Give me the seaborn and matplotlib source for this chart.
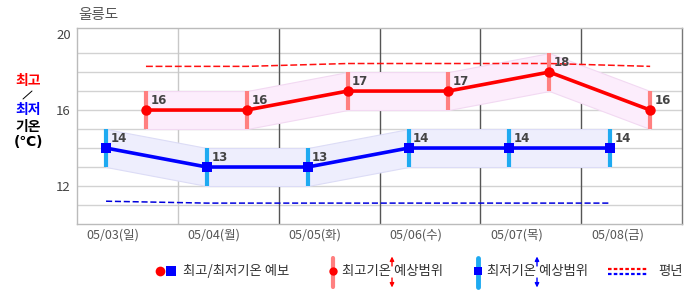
import numpy as np
import pandas as pd
import matplotlib
matplotlib.use("Agg")
import matplotlib.pyplot as plt
import seaborn as sns
from matplotlib.lines import Line2D

# ---------------- data ----------------
location = "울릉도"
dates = ["05/03(일)", "05/04(월)", "05/05(화)", "05/06(수)", "05/07(목)", "05/08(금)"]
max_temp = [16, 16, 17, 17, 18, 16]
max_low = [15, 15, 16, 16, 17, 15]
max_high = [17, 17, 18, 18, 19, 17]
min_temp = [14, 13, 13, 14, 14, 14]
min_low = [13, 12, 12, 13, 13, 13]
min_high = [15, 14, 14, 15, 15, 15]
normal_max = [18.3, 18.3, 18.45, 18.45, 18.45, 18.3]
normal_min = [11.2, 11.1, 11.1, 11.1, 11.1, 11.1]
y_ticks = [12, 16, 20]
grid_levels = [11, 12, 13, 14, 15, 16, 17, 18, 19]

# ---------------- style ----------------
sns.set_style("white")
plt.rcParams['font.family'] = ['Noto Sans CJK KR', 'DejaVu Sans']
plt.rcParams['axes.unicode_minus'] = False

W, H = 686, 295
fig = plt.figure(figsize=(W / 100, H / 100), dpi=100)
ax = fig.add_axes([77 / W, 1 - 224 / H, 605 / W, 196 / H])

day = np.arange(len(dates))
df = pd.DataFrame({
    "day": day,
    "x_min": day + 0.288,   # morning (min) position inside the day column
    "x_max": day + 0.684,   # afternoon (max) position inside the day column
    "max": max_temp, "max_low": max_low, "max_high": max_high,
    "min": min_temp, "min_low": min_low, "min_high": min_high,
    "n_max": normal_max, "n_min": normal_min,
})

# grid
for v in grid_levels:
    ax.axhline(v, color="#d2d2d2", lw=1, zorder=0)
for i in range(1, len(dates)):
    ax.axvline(i, color="#c8c8c8" if i == 1 else "#555555", lw=1, zorder=0.5)

# bands
ax.fill_between(df["x_max"], df["max_low"], df["max_high"], facecolor="#fcedfc",
                edgecolor="#f2d9f2", lw=0.8, zorder=1)
ax.fill_between(df["x_min"], df["min_low"], df["min_high"], facecolor="#eeeefd",
                edgecolor="#dcdcf6", lw=0.8, zorder=1)

# normals
sns.lineplot(data=df, x="x_max", y="n_max", ax=ax, color="#ff1010", lw=1.1, zorder=2)
ax.lines[-1].set_dashes((4.5, 1.8))
sns.lineplot(data=df, x="x_min", y="n_min", ax=ax, color="#0000dd", lw=1.1, zorder=2)
ax.lines[-1].set_dashes((4.0, 1.8))

# range bars
ax.vlines(df["x_max"], df["max_low"], df["max_high"], color="#ff8080", lw=3, zorder=3)
ax.vlines(df["x_min"], df["min_low"], df["min_high"], color="#1eaaf1", lw=3, zorder=3)

# main lines
sns.lineplot(data=df, x="x_max", y="max", ax=ax, color="#ff0000", lw=2.6,
             marker="o", markersize=7.5, markeredgewidth=0, zorder=5)
sns.lineplot(data=df, x="x_min", y="min", ax=ax, color="#0000ff", lw=2.6,
             marker="s", markersize=7, markeredgewidth=0, zorder=5)

for x, v in zip(df["x_max"], df["max"]):
    ax.annotate(str(v), (x, v), xytext=(3.2, 7.2), textcoords="offset points",
                ha="left", va="center", fontsize=8.5, fontweight="bold",
                color="#444444", family="DejaVu Sans", zorder=6)
for x, v in zip(df["x_min"], df["min"]):
    ax.annotate(str(v), (x, v), xytext=(3.2, 7.2), textcoords="offset points",
                ha="left", va="center", fontsize=8.5, fontweight="bold",
                color="#444444", family="DejaVu Sans", zorder=6)

ax.set_xlim(0, len(dates))
ax.set_ylim(10, 20.32)
ax.set_yticks(y_ticks)
ax.set_yticklabels([str(t) for t in y_ticks])
ax.set_xticks(day + 0.36)
ax.set_xticklabels(dates)
ax.tick_params(axis="y", length=0, pad=4.5, labelsize=9.5, labelcolor="#444444")
ax.tick_params(axis="x", length=0, pad=3, labelsize=9, labelcolor="#555555")
ax.set_xlabel("")
ax.set_ylabel("")
for s in ["left", "bottom", "top"]:
    ax.spines[s].set_color("#bbbbbb")
    ax.spines[s].set_linewidth(1)
ax.spines["right"].set_color("#777777")
ax.spines["right"].set_linewidth(1)

# title
fig.text(78 / W, 1 - 15 / H, location, fontsize=10.5, color="#555555", va="center", ha="left")

# y-axis caption
def fx(px):
    return px / W
def fy(py):
    return 1 - py / H

fig.text(fx(28), fy(80.5), "최고", color="#ff0000", fontsize=10, fontweight="bold", ha="center", va="center")
fig.add_artist(Line2D([fx(23), fx(32)], [fy(99), fy(91)], color="black", lw=0.7))
fig.text(fx(28), fy(110), "최저", color="#0000ff", fontsize=10, fontweight="bold", ha="center", va="center")
fig.text(fx(28), fy(126.5), "기온", color="black", fontsize=10, fontweight="bold", ha="center", va="center")
fig.text(fx(28.5), fy(142), "(℃)", color="black", fontsize=10, fontweight="bold", ha="center", va="center",
         family=["DejaVu Sans"])

# legend (drawn manually)
ly = 271
fig.add_artist(Line2D([fx(160)], [fy(ly)], marker="o", color="#ff0000", markersize=7, markeredgewidth=0, ls="none"))
fig.add_artist(Line2D([fx(171)], [fy(ly)], marker="s", color="#0000ff", markersize=6.5, markeredgewidth=0, ls="none"))
fig.text(fx(183), fy(ly), "최고/최저기온 예보", fontsize=9.6, color="#333333", va="center", ha="left")

fig.add_artist(Line2D([fx(333), fx(333)], [fy(258), fy(287)], color="#ff8080", lw=3))
fig.add_artist(Line2D([fx(333)], [fy(ly)], marker="o", color="#ff0000", markersize=6, markeredgewidth=0, ls="none"))
fig.text(fx(342), fy(ly), "최고기온 예상범위", fontsize=9.6, color="#333333", va="center", ha="left")

fig.add_artist(Line2D([fx(478), fx(478)], [fy(258), fy(287)], color="#1eaaf1", lw=3.5))
fig.add_artist(Line2D([fx(478)], [fy(ly)], marker="s", color="#0000ff", markersize=6, markeredgewidth=0, ls="none"))
fig.text(fx(487), fy(ly), "최저기온 예상범위", fontsize=9.6, color="#333333", va="center", ha="left")

for axp, col in [(392, "#ff0000"), (537, "#0000ff")]:
    ax.annotate("", xy=(axp, H - 256.5), xytext=(axp, H - 266), xycoords="figure pixels",
                textcoords="figure pixels",
                arrowprops=dict(arrowstyle="-|>", color=col, lw=1, mutation_scale=6, shrinkA=0, shrinkB=0))
    ax.annotate("", xy=(axp, H - 287.5), xytext=(axp, H - 278), xycoords="figure pixels",
                textcoords="figure pixels",
                arrowprops=dict(arrowstyle="-|>", color=col, lw=1, mutation_scale=6, shrinkA=0, shrinkB=0))

fig.add_artist(Line2D([fx(608), fx(647)], [fy(269), fy(269)], color="#ff0000", lw=1.6, dashes=(1.6, 1.0)))
fig.add_artist(Line2D([fx(608), fx(647)], [fy(274), fy(274)], color="#0000ff", lw=1.6, dashes=(1.6, 1.0)))
fig.text(fx(658), fy(ly), "평년", fontsize=9.6, color="#333333", va="center", ha="left")

fig.savefig("out.png", dpi=100)
